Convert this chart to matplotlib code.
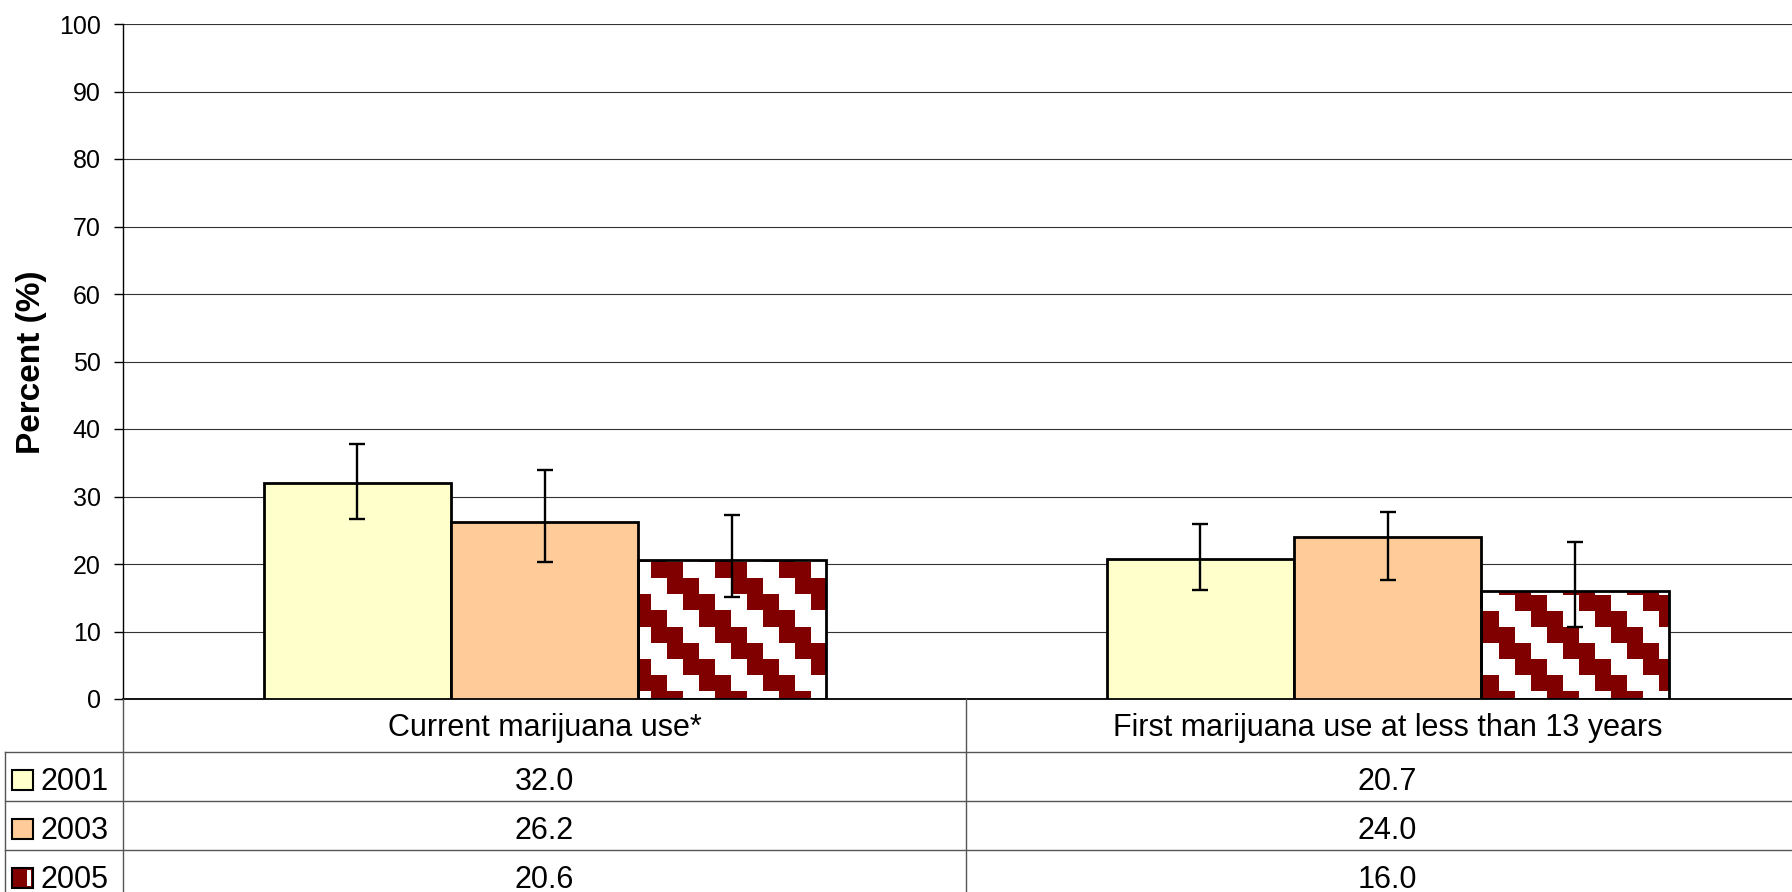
import numpy as np
import matplotlib
matplotlib.use("Agg")
import matplotlib.pyplot as plt
from matplotlib.colors import ListedColormap
from matplotlib.patches import Rectangle
from matplotlib.lines import Line2D
from matplotlib.transforms import blended_transform_factory

plt.rcParams['font.family'] = ['Liberation Sans', 'DejaVu Sans']

categories = ["Current marijuana use*", "First marijuana use at less than 13 years"]
years = ["2001", "2003", "2005"]
vals_2001 = [32.0, 20.7]
vals_2003 = [26.2, 24.0]
vals_2005 = [20.6, 16.0]
# 95% confidence limits
lo_2001 = [26.7, 16.2]
hi_2001 = [37.8, 25.9]
lo_2003 = [20.3, 17.6]
hi_2003 = [34.0, 27.7]
lo_2005 = [15.1, 10.7]
hi_2005 = [27.2, 23.2]
yticks = list(range(0, 101, 10))

W, H = 1792, 892
fig = plt.figure(figsize=(W / 100, H / 100), dpi=100)
ax_l, ax_t, ax_r, ax_b = 123, 24, 1809, 699
ax = fig.add_axes([ax_l / W, 1 - ax_b / H, (ax_r - ax_l) / W, (ax_b - ax_t) / H])

x = np.arange(len(categories))
bw = 1 / 4.5
series = [
    (vals_2001, lo_2001, hi_2001, "#FFFFCC"),
    (vals_2003, lo_2003, hi_2003, "#FFCC99"),
    (vals_2005, lo_2005, hi_2005, "none"),
]

ax.set_xlim(-0.5, len(categories) - 0.5)
ax.set_ylim(0, 100)

# stair-step pattern for the 2005 bars, laid out in figure pixels
xs = np.arange(ax_l, ax_r)
ys = np.arange(ax_t, ax_b)
XX, YY = np.meshgrid(xs, ys)
pattern = (((XX + 37 - 16 * ((YY - 3) // 16)) % 64) < 32).astype(int)
pat_cmap = ListedColormap(["white", "#800000"])

for i, (vals, lo, hi, color) in enumerate(series):
    pos = x + (i - 1) * bw
    bars = ax.bar(pos, vals, bw, color=color, edgecolor="black", linewidth=2.0, zorder=3)
    err = [np.array(vals) - np.array(lo), np.array(hi) - np.array(vals)]
    ax.errorbar(pos, vals, yerr=err, fmt="none", ecolor="black", elinewidth=1.7,
                capsize=5.5, capthick=1.7, zorder=5)
    if i == 2:
        for b in bars:
            im = ax.imshow(pattern, cmap=pat_cmap, extent=(-0.5, len(categories) - 0.5, 0, 100),
                           origin="upper", aspect="auto", interpolation="nearest", zorder=2)
            im.set_clip_path(b)

ax.set_xlim(-0.5, len(categories) - 0.5)
ax.set_ylim(0, 100)
ax.set_yticks(yticks)
ax.set_yticklabels([str(t) for t in yticks], fontsize=18)
ax.tick_params(axis="y", length=6.5, width=1, pad=9.5, direction="out")
ax.set_xticks([])
ax.yaxis.grid(True, color="#333333", linewidth=0.8, zorder=0)
ax.set_axisbelow(True)
for s in ["top", "right"]:
    ax.spines[s].set_visible(False)
ax.spines["left"].set_linewidth(1.0)
ax.spines["bottom"].set_linewidth(1.3)

# data table under the axis
def fy(py):
    return 1 - py / H

def fx(px):
    return px / W

fig.text(fx(32), fy(362.5), "Percent (%)", rotation=90, ha="center", va="center",
         fontsize=24, fontweight="bold")

grid_c = "#555555"
row_edges = [752, 801, 850, 898]
for r in row_edges[:-1]:
    fig.add_artist(Line2D([fx(5), 1], [fy(r), fy(r)], color=grid_c, lw=1.0))
fig.add_artist(Line2D([fx(5), fx(5)], [fy(752), 0], color=grid_c, lw=1.0))
fig.add_artist(Line2D([fx(ax_l), fx(ax_l)], [fy(ax_b), 0], color=grid_c, lw=1.0))
trans = blended_transform_factory(ax.transData, fig.transFigure)
for k in range(1, len(categories)):
    fig.add_artist(Line2D([k - 0.5, k - 0.5], [fy(ax_b), 0], color=grid_c, lw=1.0,
                          transform=trans))

for j, cat in enumerate(categories):
    fig.text(x[j], fy(ax_b + 37), cat, transform=trans, ha="center", va="baseline",
             fontsize=22)

key_fill = ["#FFFFCC", "#FFCC99", "#800000"]
for i, (vals, lo, hi, color) in enumerate(series):
    top = row_edges[i]
    base = top + 38
    for j in range(len(categories)):
        fig.text(x[j], fy(base), f"{vals[j]:.1f}", transform=trans, ha="center",
                 va="baseline", fontsize=22)
    fig.add_artist(Rectangle((fx(12), fy(top + 37.5)), fx(20.5), 19.5 / H,
                             facecolor=key_fill[i], edgecolor="black", linewidth=1.5))
    if i == 2:
        fig.add_artist(Rectangle((fx(27), fy(top + 35.5)), fx(4), 15.5 / H, facecolor="white",
                                 edgecolor="none"))
    fig.text(fx(40), fy(base), years[i], ha="left", va="baseline", fontsize=22)

fig.savefig("out.png", dpi=100)
